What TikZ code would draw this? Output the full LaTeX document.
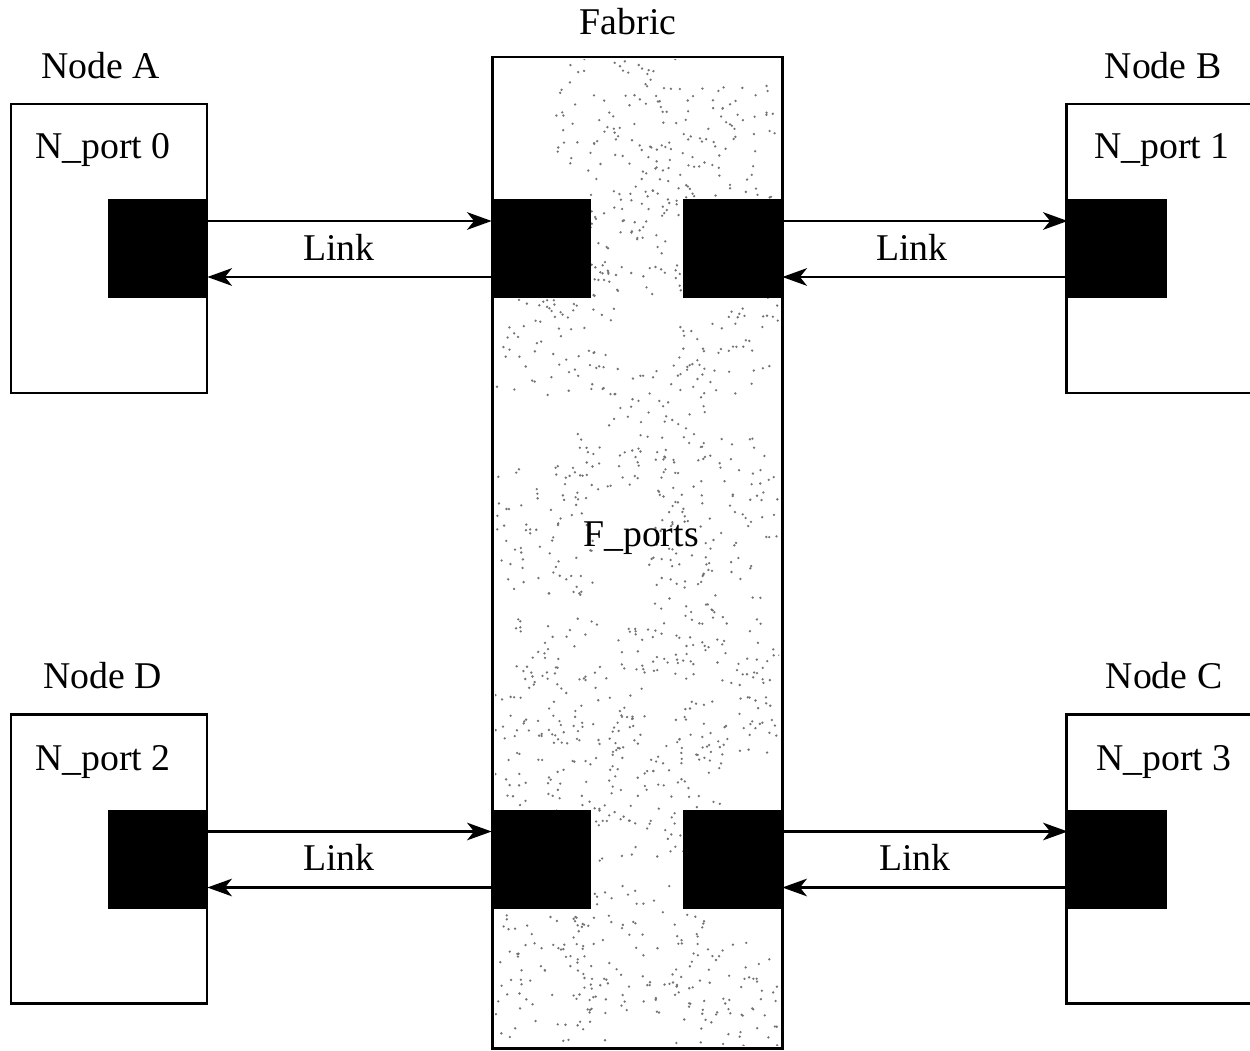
\documentclass[tikz,border=0pt]{standalone}
\usepackage{fontspec}
\setmainfont{Liberation Serif}
\usetikzlibrary{arrows.meta}

\tikzset{
  nodebox/.style={draw, line width=1.7pt, minimum width=3.92cm, minimum height=5.78cm, inner sep=0pt},
  portbox/.style={fill=black, minimum size=1.98cm, inner sep=0pt},
  link/.style={line width=1.4pt, -{Stealth[length=14pt,width=10pt,inset=4pt]}},
  lbl/.style={font=\fontsize{21.5}{24}\selectfont, inner sep=0pt}
}

\begin{document}
\begin{tikzpicture}
  \useasboundingbox (0,0) rectangle (25,21);
  \clip (0,0) rectangle (25,21);

  % fabric with its stipple
  \draw[line width=1.7pt] (9.84,0.04) rectangle (15.64,19.86);
  \pgfmathsetseed{42}
  \begin{scope}
    \clip (9.9,0.1) rectangle (15.58,19.8);
    \foreach \cx/\cy in {12.4/19.0, 14.2/18.0, 13.0/16.4, 11.0/14.4, 14.8/14.4,
                         12.8/12.4, 14.4/11.0, 10.6/10.4, 14.0/8.6, 11.6/7.4,
                         14.8/7.0, 11.2/5.8, 13.2/5.0, 12.8/2.0, 10.8/1.4, 14.8/1.0}{
      \foreach \i in {1,...,90}{
        \fill[black!55] ({\cx+1.3*rand},{\cy+1.3*rand}) circle (0.026);
      }
    }
  \end{scope}
  \node[lbl] (fabric) at (12.56,20.56) {Fabric};
  \node[lbl] (fports) at (12.82,10.24) {F\_ports};

  % the four nodes
  \node[nodebox] (nodeA) at (2.18,16.03) {};
  \node[nodebox] (nodeB) at (23.28,16.03) {};
  \node[nodebox] (nodeD) at (2.18,3.82) {};
  \node[nodebox] (nodeC) at (23.28,3.82) {};

  \node[lbl] at (2.02,19.68) {Node A};
  \node[lbl] at (23.26,19.68) {Node B};
  \node[lbl] at (2.06,7.48) {Node D};
  \node[lbl] at (23.28,7.48) {Node C};

  \node[lbl] at (2.06,18.0) {N\_port 0};
  \node[lbl] at (23.24,18.0) {N\_port 1};
  \node[lbl] at (2.06,5.76) {N\_port 2};
  \node[lbl] at (23.28,5.76) {N\_port 3};

  % ports
  \node[portbox] (np0) at (3.15,16.02) {};
  \node[portbox] (np1) at (22.35,16.02) {};
  \node[portbox] (np2) at (3.15,3.81) {};
  \node[portbox] (np3) at (22.35,3.81) {};
  \node[portbox] (fp0) at (10.83,16.02) {};
  \node[portbox] (fp1) at (14.65,16.02) {};
  \node[portbox] (fp2) at (10.83,3.81) {};
  \node[portbox] (fp3) at (14.65,3.81) {};

  % links
  \draw[link] ([yshift=0.56cm]np0.east) -- ([yshift=0.56cm]fp0.west);
  \draw[link] ([yshift=-0.56cm]fp0.west) -- ([yshift=-0.56cm]np0.east);
  \draw[link] ([yshift=0.56cm]fp1.east) -- ([yshift=0.56cm]np1.west);
  \draw[link] ([yshift=-0.56cm]np1.west) -- ([yshift=-0.56cm]fp1.east);
  \draw[link] ([yshift=0.56cm]np2.east) -- ([yshift=0.56cm]fp2.west);
  \draw[link] ([yshift=-0.56cm]fp2.west) -- ([yshift=-0.56cm]np2.east);
  \draw[link] ([yshift=0.56cm]fp3.east) -- ([yshift=0.56cm]np3.west);
  \draw[link] ([yshift=-0.56cm]np3.west) -- ([yshift=-0.56cm]fp3.east);

  \node[lbl] at (6.78,16.06) {Link};
  \node[lbl] at (18.24,16.06) {Link};
  \node[lbl] at (6.78,3.86) {Link};
  \node[lbl] at (18.30,3.86) {Link};
\end{tikzpicture}
\end{document}
